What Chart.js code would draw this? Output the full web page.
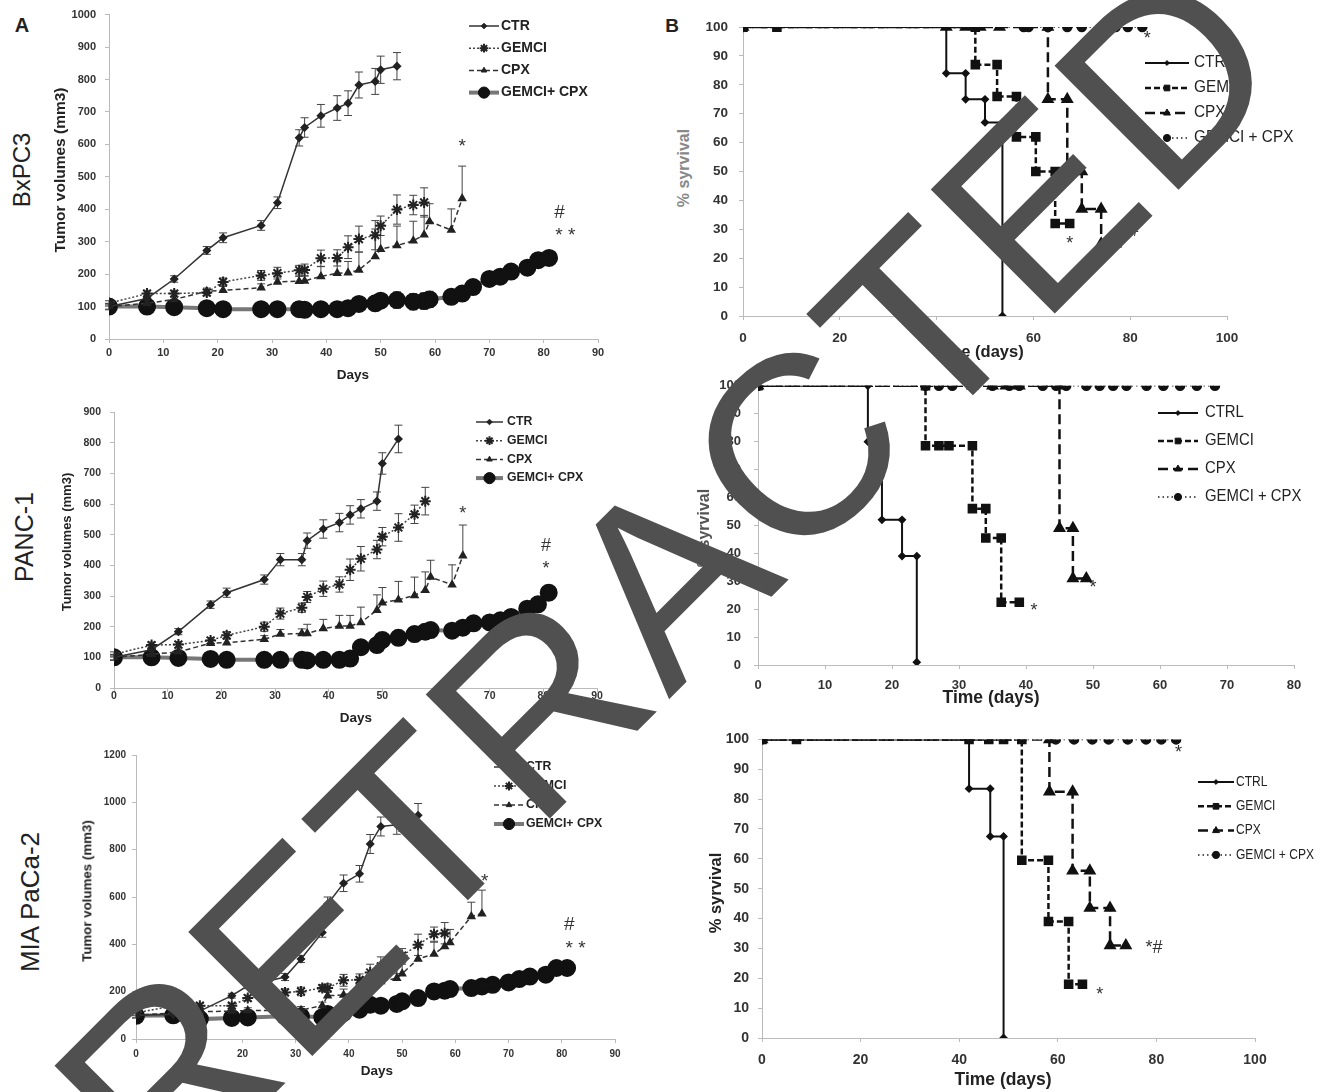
<!DOCTYPE html>
<html>
<head>
<meta charset="utf-8">
<script src="https://cdn.jsdelivr.net/npm/chart.js@4.4.1/dist/chart.umd.min.js"></script>
<style>
  body { margin: 0; background: #fff; }
  #page { position: relative; width: 1324px; height: 1092px; overflow: hidden; font-family: 'Liberation Sans', Arial, sans-serif; }
  canvas { position: absolute; }
  .t { position: absolute; white-space: nowrap; line-height: 1; color: #222; transform: translate(-50%, -50%); }
  .rot { transform: translate(-50%, -50%) rotate(-90deg); }
  #stamp { position: absolute; left: 668px; top: 575px; white-space: nowrap; line-height: 1;
    font: 255px 'Liberation Sans', Arial, sans-serif; letter-spacing: 5px; color: #505050;
    transform: translate(-50%, -50%) rotate(-45deg); pointer-events: none; }
</style>
</head>
<body>
<div id="page">
  <div class="t" style="left:22px;top:25px;font-weight:bold;font-size:20px">A</div>
  <div class="t" style="left:672px;top:25px;font-weight:bold;font-size:19px">B</div>

  <div class="t rot" style="left:22px;top:170px;font-size:24px">BxPC3</div>
  <div class="t rot" style="left:24px;top:537px;font-size:25px">PANC-1</div>
  <div class="t rot" style="left:30px;top:902px;font-size:26px">MIA PaCa-2</div>

  <div class="t rot" style="left:60px;top:170px;font-weight:bold;font-size:15.5px">Tumor volumes (mm3)</div>
  <div class="t rot" style="left:66px;top:542px;font-weight:bold;font-size:13px">Tumor volumes (mm3)</div>
  <div class="t rot" style="left:87px;top:891px;font-weight:bold;font-size:13.3px">Tumor volumes (mm3)</div>

  <div class="t" style="left:353px;top:375px;font-weight:bold;font-size:13.5px">Days</div>
  <div class="t" style="left:356px;top:718px;font-weight:bold;font-size:13.5px">Days</div>
  <div class="t" style="left:377px;top:1071px;font-weight:bold;font-size:13.5px">Days</div>

  <div class="t rot" style="left:684px;top:168px;font-weight:bold;font-size:16px;color:#888">% syrvival</div>
  <div class="t rot" style="left:704px;top:528px;font-weight:bold;font-size:16px;color:#555">% syrvival</div>
  <div class="t rot" style="left:715px;top:893px;font-weight:bold;font-size:16.5px">% syrvival</div>

  <div class="t" style="left:978px;top:351px;font-weight:bold;font-size:16.5px">Time (days)</div>
  <div class="t" style="left:991px;top:698px;font-weight:bold;font-size:17.5px">Time (days)</div>
  <div class="t" style="left:1003px;top:1080px;font-weight:bold;font-size:17.5px">Time (days)</div>
</div>
<script>
// --- tumour growth (panel A) ---
const daysCtr = [0, 7, 12, 18, 21, 28, 31, 35, 36, 39, 42, 44, 46, 49, 50, 53];
const daysGem = [0, 7, 12, 18, 21, 28, 31, 35, 36, 39, 42, 44, 46, 49, 50, 53, 56, 58];
const daysCpx = [0, 7, 12, 18, 21, 28, 31, 35, 36, 39, 42, 44, 46, 49, 50, 53, 56, 58, 59, 63, 65];
const daysComb = [0, 7, 12, 18, 21, 28, 31, 35, 36, 39, 42, 44, 46, 49, 50, 53, 56, 58, 59, 63, 65, 67, 70, 72, 74, 77, 79, 81];

const bxCtr = [100, 125, 185, 273, 312, 350, 420, 620, 652, 688, 712, 727, 783, 794, 830, 841];
const bxCtrErr = [8, 10, 10, 12, 15, 15, 18, 25, 30, 35, 38, 38, 40, 40, 42, 42];
const bxGem = [110, 140, 140, 143, 176, 196, 203, 212, 213, 249, 250, 283, 308, 320, 349, 399, 413, 421];
const bxGemErr = [8, 10, 10, 10, 12, 15, 18, 15, 18, 25, 25, 35, 40, 45, 30, 45, 30, 45];
const bxCpx = [100, 110, 122, 147, 150, 158, 176, 178, 179, 193, 203, 204, 213, 254, 277, 288, 303, 321, 362, 336, 433];
const bxCpxErr = [8, 8, 10, 10, 12, 12, 15, 15, 15, 30, 35, 35, 55, 85, 75, 60, 60, 60, 55, 65, 100];
const bxComb = [100, 100, 98, 95, 92, 92, 92, 92, 90, 92, 92, 95, 108, 110, 118, 120, 115, 117, 122, 130, 140, 160, 185, 192, 208, 220, 243, 250];
const bxCombErr = [10, 10, 10, 8, 8, 8, 8, 8, 8, 8, 8, 8, 10, 15, 15, 25, 25, 25, 25, 12, 12, 12, 10, 10, 10, 15, 15, 15];

const paCtr = [100, 125, 184, 272, 311, 354, 419, 419, 481, 519, 540, 565, 585, 610, 733, 813];
const paCtrErr = [8, 10, 10, 12, 15, 15, 20, 20, 25, 30, 30, 30, 30, 30, 35, 45];
const paGem = [110, 140, 142, 155, 172, 200, 243, 262, 297, 324, 338, 386, 422, 452, 494, 524, 567, 610];
const paGemErr = [8, 10, 10, 10, 12, 15, 18, 15, 18, 25, 25, 35, 40, 30, 30, 45, 30, 45];
const paCpx = [100, 110, 118, 146, 148, 159, 176, 178, 178, 194, 202, 202, 214, 254, 278, 288, 302, 319, 362, 337, 432];
const paCpxErr = [8, 8, 10, 10, 12, 12, 15, 15, 30, 30, 35, 35, 50, 50, 50, 60, 60, 60, 55, 65, 100];
const paComb = [100, 100, 98, 95, 92, 92, 92, 92, 90, 92, 92, 96, 133, 140, 157, 164, 176, 184, 189, 187, 197, 211, 214, 221, 232, 259, 273, 311];
const paCombErr = [10, 10, 10, 8, 8, 8, 8, 8, 15, 15, 15, 15, 15, 15, 25, 25, 25, 25, 25, 12, 12, 12, 10, 10, 10, 20, 20, 25];

const miCtr = [100, 103, 118, 183, 225, 262, 338, 450, 570, 658, 698, 824, 898, 905, 923, 945];
const miCtrErr = [8, 8, 10, 10, 12, 15, 15, 20, 30, 35, 35, 40, 40, 40, 45, 50];
const miGem = [110, 140, 141, 141, 173, 197, 201, 215, 215, 248, 250, 281, 307, 321, 352, 398, 443, 447];
const miGemErr = [10, 10, 10, 10, 12, 15, 18, 15, 18, 25, 25, 35, 40, 45, 30, 45, 30, 45];
const miCpx = [100, 110, 115, 118, 120, 120, 122, 141, 183, 186, 201, 215, 243, 257, 276, 338, 359, 391, 408, 518, 529];
const miCpxErr = [8, 8, 10, 10, 12, 12, 15, 15, 20, 25, 30, 35, 50, 55, 40, 50, 50, 50, 55, 60, 100];
const miComb = [98, 100, 84, 89, 91, 96, 96, 92, 106, 110, 124, 145, 141, 148, 159, 173, 201, 204, 211, 215, 222, 229, 239, 253, 264, 272, 300, 300];
const miCombErr = [10, 10, 10, 8, 8, 8, 8, 8, 10, 10, 12, 15, 15, 15, 15, 25, 25, 25, 20, 12, 12, 12, 10, 10, 10, 15, 15, 15];

// --- survival (panel B), step corners ---
const s1CtrlX = [0, 42, 42, 46, 46, 50, 50, 53.6, 53.6];
const s1CtrlY = [100, 100, 84, 84, 75, 75, 67, 67, 0];
const s1GemX = [0, 7, 48, 48, 52.5, 52.5, 56.5, 56.5, 60.5, 60.5, 64.5, 64.5, 67.5];
const s1GemY = [100, 100, 100, 87, 87, 76, 76, 62, 62, 50, 50, 32, 32];
const s1CpxX = [0, 42, 46, 49, 53, 63, 63, 67, 67, 70, 70, 74, 74, 77];
const s1CpxY = [100, 100, 100, 100, 100, 100, 75, 75, 50, 50, 37, 37, 25, 25];
const s1CombX = [0, 58, 59, 63, 67, 70, 74, 77, 79.5, 82.5];
const s1CombY = [100, 100, 100, 100, 100, 100, 100, 100, 100, 100];

const s2CtrlX = [0, 16.4, 16.4, 18.5, 18.5, 21.5, 21.5, 23.7, 23.7];
const s2CtrlY = [100, 100, 80, 80, 52, 52, 39, 39, 1];
const s2GemX = [0, 25, 25, 27, 28.5, 32, 32, 34, 34, 36.3, 36.3, 39];
const s2GemY = [100, 100, 78.5, 78.5, 78.5, 78.5, 56, 56, 45.5, 45.5, 22.5, 22.5];
const s2CpxX = [0, 32, 35, 37, 39, 45, 45, 47, 47, 49];
const s2CpxY = [100, 100, 100, 100, 100, 100, 49, 49, 31, 31];
const s2CombX = [0, 25, 27, 29, 32, 35, 37.5, 39, 42.5, 44.5, 46, 49, 51, 53, 55, 58, 60.5, 63, 65.5, 68.2];
const s2CombY = [100, 100, 100, 100, 100, 100, 100, 100, 100, 100, 100, 100, 100, 100, 100, 100, 100, 100, 100, 100];

const s3CtrlX = [0, 42, 42, 46.3, 46.3, 49, 49];
const s3CtrlY = [100, 100, 83.5, 83.5, 67.5, 67.5, 0];
const s3GemX = [0, 7, 42, 46, 49, 52.7, 52.7, 58.1, 58.1, 62.2, 62.2, 65];
const s3GemY = [100, 100, 100, 100, 100, 100, 59.5, 59.5, 39, 39, 18, 18];
const s3CpxX = [0, 58.3, 58.3, 63, 63, 66.5, 66.5, 70.6, 70.6, 73.8];
const s3CpxY = [100, 100, 82.5, 82.5, 56, 56, 43.5, 43.5, 31, 31];
const s3CombX = [0, 59.6, 63.3, 67, 70.3, 74.2, 77.9, 81, 84];
const s3CombY = [100, 100, 100, 100, 100, 100, 100, 100, 100];

// significance marks: [x, y, text]
const bxNotes = [[65, 592, '*'], [82.9, 390, '#'], [84, 318, '* *']];
const paNotes = [[65, 567, '*'], [80.5, 465, '#'], [80.5, 389, '*']];
const miNotes = [[65.5, 665, '*'], [81.4, 483, '#'], [82.6, 380, '* *']];
const s1Notes = [[67.5, 25, '*'], [80, 29.5, '*#'], [83.5, 96, '*']];
const s2Notes = [[41.2, 19.5, '*'], [50, 27.5, '*']];
const s3Notes = [[68.5, 14.5, '*'], [79.5, 30, '*#'], [84.5, 95.5, '*']];

const pts = (xs, ys) => xs.map((x, i) => ({ x, y: ys[i] }));
const ARIAL = "'Liberation Sans', Arial, sans-serif";

function growthSets(ctr, ctrErr, gem, gemErr, cpx, cpxErr, comb, combErr) {
  return [
    { label: 'CTR', data: pts(daysCtr, ctr), err: ctrErr, borderColor: '#333', borderWidth: 1.5,
      pointStyle: 'rectRot', pointRadius: 3.5, pointBackgroundColor: '#222', pointBorderColor: '#222' },
    { label: 'GEMCI', data: pts(daysGem, gem), err: gemErr, borderColor: '#444', borderWidth: 1.5, borderDash: [2, 2],
      pointStyle: 'star', pointRadius: 5.5, pointBorderWidth: 2, pointBackgroundColor: '#222', pointBorderColor: '#222' },
    { label: 'CPX', data: pts(daysCpx, cpx), err: cpxErr, errMode: 'up', borderColor: '#333', borderWidth: 1.5, borderDash: [5, 3],
      pointStyle: 'triangle', pointRadius: 4, pointBackgroundColor: '#222', pointBorderColor: '#222' },
    { label: 'GEMCI+ CPX', data: pts(daysComb, comb), err: combErr, borderColor: '#777', borderWidth: 4,
      pointStyle: 'circle', pointRadius: 7, pointBackgroundColor: '#111', pointBorderColor: '#111' },
  ];
}

function survivalSets(cx, cy, gx, gy, px, py, bx, by) {
  return [
    { label: 'CTRL', data: pts(cx, cy), borderColor: '#111', borderWidth: 2,
      pointStyle: 'rectRot', pointRadius: 3, pointBackgroundColor: '#111', pointBorderColor: '#111' },
    { label: 'GEMCI', data: pts(gx, gy), borderColor: '#111', borderWidth: 2.5, borderDash: [6, 3],
      pointStyle: 'rect', pointRadius: 5, pointBackgroundColor: '#111', pointBorderColor: '#111' },
    { label: 'CPX', data: pts(px, py), borderColor: '#111', borderWidth: 2.5, borderDash: [10, 5],
      pointStyle: 'triangle', pointRadius: 5, pointBackgroundColor: '#111', pointBorderColor: '#111' },
    { label: 'GEMCI + CPX', data: pts(bx, by), borderColor: '#222', borderWidth: 1.5, borderDash: [1.5, 3],
      pointStyle: 'circle', pointRadius: 4.5, pointBackgroundColor: '#111', pointBorderColor: '#111' },
  ];
}

const errorBars = {
  id: 'errorBars',
  beforeDatasetsDraw(chart) {
    const { ctx, scales: { x, y } } = chart;
    chart.data.datasets.forEach(ds => {
      if (!ds.err) return;
      ctx.save();
      ctx.strokeStyle = '#444';
      ctx.lineWidth = 1;
      ds.data.forEach((p, i) => {
        const e = ds.err[i];
        if (!e) return;
        const px = x.getPixelForValue(p.x);
        const top = y.getPixelForValue(p.y + e);
        const bot = y.getPixelForValue(ds.errMode === 'up' ? p.y : p.y - e);
        ctx.beginPath();
        ctx.moveTo(px, top); ctx.lineTo(px, bot);
        ctx.moveTo(px - 4, top); ctx.lineTo(px + 4, top);
        if (ds.errMode !== 'up') { ctx.moveTo(px - 4, bot); ctx.lineTo(px + 4, bot); }
        ctx.stroke();
      });
      ctx.restore();
    });
  },
};

// legend drawn as line sample + marker + label, label optionally squeezed sideways
const sideLegend = {
  id: 'sideLegend',
  afterDatasetsDraw(chart, args, o) {
    if (o.x == null) return;
    const ctx = chart.ctx;
    chart.data.datasets.forEach((ds, i) => {
      const y = o.y + i * o.dy;
      ctx.save();
      ctx.strokeStyle = ds.borderColor;
      ctx.lineWidth = ds.borderWidth;
      ctx.setLineDash(ds.borderDash || []);
      ctx.beginPath(); ctx.moveTo(o.x, y); ctx.lineTo(o.x + o.len, y); ctx.stroke();
      ctx.setLineDash([]);
      ctx.fillStyle = ds.pointBackgroundColor;
      ctx.strokeStyle = ds.pointBorderColor;
      ctx.lineWidth = ds.pointBorderWidth || 1;
      Chart.helpers.drawPoint(ctx, { pointStyle: ds.pointStyle, radius: ds.pointRadius * 0.8, borderWidth: ds.pointBorderWidth || 1, rotation: 0 }, o.x + o.len / 2, y);
      ctx.fillStyle = o.color;
      ctx.font = o.font;
      ctx.textBaseline = 'middle';
      ctx.translate(o.x + o.len + o.gap, y);
      ctx.scale(o.sx || 1, 1);
      ctx.fillText(ds.label, 0, 0);
      ctx.restore();
    });
  },
};

const notes = {
  id: 'notes',
  afterDatasetsDraw(chart, args, o) {
    if (!o.items) return;
    const { ctx, scales: { x, y } } = chart;
    ctx.save();
    ctx.font = o.font;
    ctx.fillStyle = o.color || '#333';
    ctx.textAlign = 'center';
    ctx.textBaseline = 'middle';
    o.items.forEach(([vx, vy, txt]) => ctx.fillText(txt, x.getPixelForValue(vx), y.getPixelForValue(vy)));
    ctx.restore();
  },
};

const page = document.getElementById('page');

function makePanel(p) {
  const padL = 50, padT = 14, padB = 34;
  const [l, t, r, b] = p.rect;
  const cw = r - l + padL + p.padR, ch = b - t + padT + padB;
  const cv = document.createElement('canvas');
  cv.width = cw; cv.height = ch;
  cv.style.left = (l - padL) + 'px';
  cv.style.top = (t - padT) + 'px';
  cv.style.width = cw + 'px';
  cv.style.height = ch + 'px';
  page.insertBefore(cv, page.firstChild);
  const lg = p.legend;
  new Chart(cv, {
    type: 'line',
    data: { datasets: p.sets },
    options: {
      responsive: false, animation: false, devicePixelRatio: 1,
      layout: { padding: { left: 0, top: padT, right: p.padR, bottom: 0 } },
      plugins: {
        legend: { display: false }, tooltip: { enabled: false },
        sideLegend: { x: lg.x - (l - padL), y: lg.y - (t - padT), dy: lg.dy, len: lg.len, gap: lg.gap, font: lg.font, sx: lg.sx, color: '#222' },
        notes: { items: p.notes, font: p.noteFont, color: '#333' },
      },
      scales: {
        x: {
          type: 'linear', min: 0, max: p.xMax,
          ticks: { stepSize: p.xStep, font: p.tickFont, color: '#333', padding: p.xPad, maxRotation: 0, autoSkip: false, callback: v => v },
          grid: { drawOnChartArea: false, color: '#bbb', tickLength: 4 },
          border: { color: '#bbb' },
          afterFit: s => { s.height = padB; },
        },
        y: {
          min: 0, max: p.yMax,
          ticks: { stepSize: p.yStep, font: p.tickFont, color: '#333', padding: p.yPad, autoSkip: false, callback: v => v },
          grid: { drawOnChartArea: false, color: '#bbb', tickLength: 4 },
          border: { color: '#bbb' },
          afterFit: s => { s.width = padL; },
        },
      },
    },
    plugins: [errorBars, sideLegend, notes],
  });
}

const boldTick = size => ({ family: ARIAL, size, weight: 'bold' });

makePanel({
  rect: [109, 13, 598, 339], padR: 14, xMax: 90, xStep: 10, yMax: 1000, yStep: 100, xPad: 3, yPad: 9,
  tickFont: boldTick(11),
  sets: growthSets(bxCtr, bxCtrErr, bxGem, bxGemErr, bxCpx, bxCpxErr, bxComb, bxCombErr),
  legend: { x: 469, y: 26, dy: 22.2, len: 30, gap: 2, font: 'bold 14px ' + ARIAL },
  notes: bxNotes, noteFont: '19px ' + ARIAL,
});
makePanel({
  rect: [114, 411, 597, 688], padR: 14, xMax: 90, xStep: 10, yMax: 900, yStep: 100, xPad: -2, yPad: 9,
  tickFont: boldTick(10.5),
  sets: growthSets(paCtr, paCtrErr, paGem, paGemErr, paCpx, paCpxErr, paComb, paCombErr),
  legend: { x: 476, y: 422, dy: 18.7, len: 27, gap: 4, font: 'bold 12.3px ' + ARIAL },
  notes: paNotes, noteFont: '18px ' + ARIAL,
});
makePanel({
  rect: [136, 755, 615, 1039], padR: 14, xMax: 90, xStep: 10, yMax: 1200, yStep: 200, xPad: 5, yPad: 6,
  tickFont: boldTick(10),
  sets: growthSets(miCtr, miCtrErr, miGem, miGemErr, miCpx, miCpxErr, miComb, miCombErr),
  legend: { x: 494, y: 767, dy: 19, len: 30, gap: 2, font: 'bold 12.3px ' + ARIAL },
  notes: miNotes, noteFont: '19px ' + ARIAL,
});
makePanel({
  rect: [743, 22, 1227, 316], padR: 1324 - 1227, xMax: 100, xStep: 20, yMax: 100, yStep: 10, xPad: 10, yPad: 11,
  tickFont: boldTick(13.5),
  sets: survivalSets(s1CtrlX, s1CtrlY, s1GemX, s1GemY, s1CpxX, s1CpxY, s1CombX, s1CombY),
  legend: { x: 1145, y: 63, dy: 25, len: 44, gap: 5, font: '16px ' + ARIAL, sx: 0.96 },
  notes: s1Notes, noteFont: '18px ' + ARIAL,
});
makePanel({
  rect: [758, 379, 1294, 665], padR: 1324 - 1294, xMax: 80, xStep: 10, yMax: 100, yStep: 10, xPad: 9, yPad: 13,
  tickFont: boldTick(13),
  sets: survivalSets(s2CtrlX, s2CtrlY, s2GemX, s2GemY, s2CpxX, s2CpxY, s2CombX, s2CombY),
  legend: { x: 1158, y: 413, dy: 28, len: 40, gap: 7, font: '16px ' + ARIAL, sx: 0.93 },
  notes: s2Notes, noteFont: '18px ' + ARIAL,
});
makePanel({
  rect: [762, 736, 1255, 1038], padR: 1324 - 1255, xMax: 100, xStep: 20, yMax: 100, yStep: 10, xPad: 10, yPad: 9,
  tickFont: boldTick(14),
  sets: survivalSets(s3CtrlX, s3CtrlY, s3GemX, s3GemY, s3CpxX, s3CpxY, s3CombX, s3CombY),
  legend: { x: 1198, y: 782, dy: 24.3, len: 36, gap: 2, font: '14px ' + ARIAL, sx: 0.86 },
  notes: s3Notes, noteFont: '18px ' + ARIAL,
});

const stamp = document.createElement('div');
stamp.id = 'stamp';
stamp.textContent = 'RETRACTED';
page.appendChild(stamp);
</script>
</body>
</html>
